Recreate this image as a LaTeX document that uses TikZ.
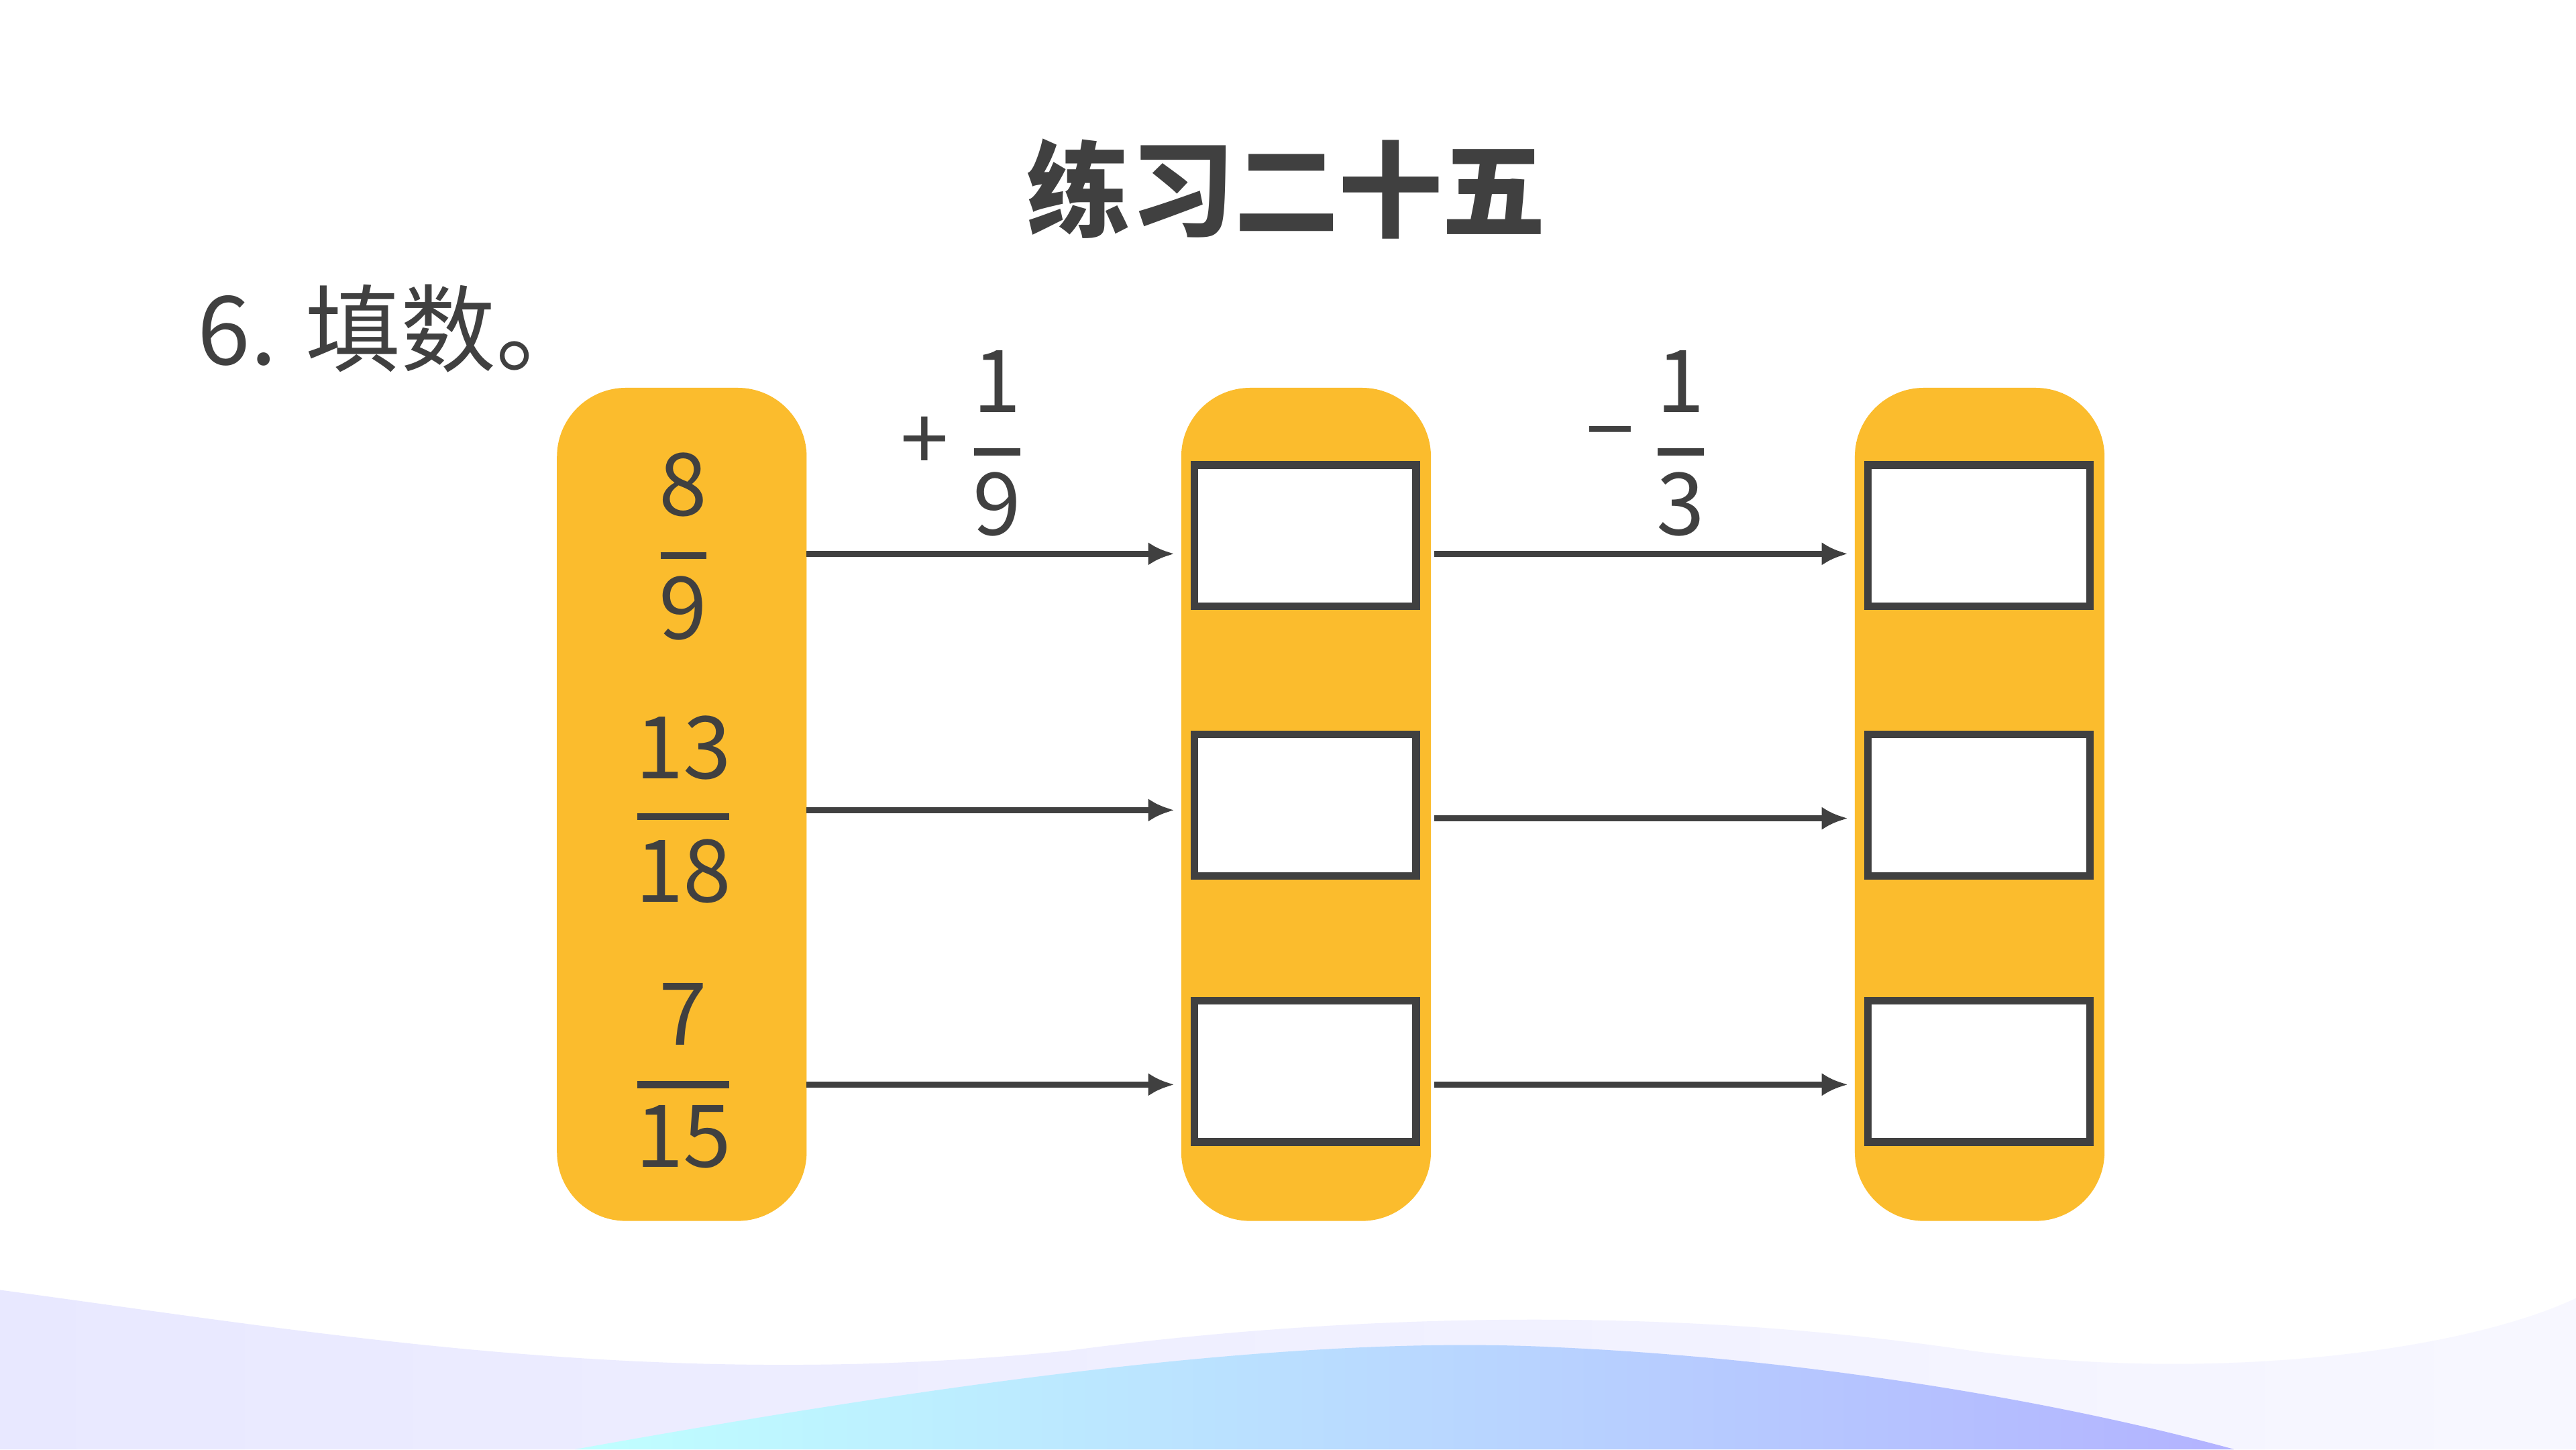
\documentclass[tikz,border=0pt]{standalone}
\usepackage{fontspec}
\setmainfont{Noto Sans CJK SC}
\usetikzlibrary{arrows.meta}
\definecolor{colyellow}{HTML}{FBBC2D}
\definecolor{inkgray}{HTML}{404040}
\tikzset{
  column/.style={fill=colyellow, rounded corners=0.42cm},
  ansbox/.style={draw=inkgray, line width=1.3pt, fill=white, minimum width=1.35cm, minimum height=0.86cm, inner sep=0pt},
  digit/.style={text=inkgray, font=\fontsize{15}{15}\selectfont, inner sep=0pt},
  bar/.style={draw=inkgray, line width=1.2pt},
  link/.style={draw=inkgray, line width=1.1pt, -{Latex[length=4.5pt,width=4pt]}}
}
\newcommand{\fracnode}[7]{% name, x, ynum, ybar, yden, num, den
  \node[digit] (#1n) at (#2,#3) {#6};
  \node[digit] (#1d) at (#2,#5) {#7};
  \coordinate (#1b) at (#2,#4);}
\begin{document}
\begin{tikzpicture}
\useasboundingbox (0,0) rectangle (15.68,8.82);
\fill[white] (0,0) rectangle (15.68,8.82);

% bottom wave
\shade[left color=blue!9, right color=blue!3] (0,0) -- (0,0.97) .. controls (2,0.7) and (4,0.35) .. (6.5,0.6)
  .. controls (8,0.8) and (10,0.9) .. (12,0.6) .. controls (13.5,0.4) and (15,0.6) .. (15.68,0.92) -- (15.68,0) -- cycle;
\shade[left color=cyan!25, right color=blue!30] (3.5,0) .. controls (6,0.45) and (8,0.7) .. (9.5,0.62)
  .. controls (11,0.55) and (12.5,0.3) .. (13.6,0) -- cycle;

% title
\node[text=inkgray, font=\fontsize{18}{18}\selectfont\bfseries] (title) at (7.83,7.67) {练习二十五};
\node[text=inkgray, font=\fontsize{16.5}{16.5}\selectfont, anchor=west] (task) at (1.08,6.82) {6. 填数。};

% columns
\fill[column] (3.39,1.39) rectangle (4.91,6.46);
\fill[column] (7.19,1.39) rectangle (8.71,6.46);
\fill[column] (11.29,1.39) rectangle (12.81,6.46);

% start values
\fracnode{fa}{4.16}{5.87}{5.44}{5.12}{8}{9}
\fracnode{fb}{4.16}{4.27}{3.85}{3.52}{13}{18}
\fracnode{fc}{4.16}{2.65}{2.22}{1.90}{7}{15}
\draw[bar] ([xshift=-0.14cm]fab) -- ([xshift=0.14cm]fab);
\draw[bar] ([xshift=-0.28cm]fbb) -- ([xshift=0.28cm]fbb);
\draw[bar] ([xshift=-0.28cm]fcb) -- ([xshift=0.28cm]fcb);

% answer boxes
\foreach \c/\x in {m/7.945, r/12.045}{
  \node[ansbox] (\c1) at (\x,5.56) {};
  \node[ansbox] (\c2) at (\x,3.92) {};
  \node[ansbox] (\c3) at (\x,2.30) {};
}

% operators
\node[digit] (plus) at (5.63,6.12) {+};
\fracnode{op}{6.07}{6.50}{6.07}{5.75}{1}{9}
\draw[bar] ([xshift=-0.14cm]opb) -- ([xshift=0.14cm]opb);
\node[digit] (minus) at (9.80,6.12) {−};
\fracnode{oq}{10.23}{6.50}{6.07}{5.75}{1}{3}
\draw[bar] ([xshift=-0.14cm]oqb) -- ([xshift=0.14cm]oqb);

% connectors
\coordinate (s1) at (4.91,5.45);
\coordinate (s2) at (4.91,3.89);
\coordinate (s3) at (4.91,2.22);
\coordinate (t1) at (8.73,5.45);
\coordinate (t2) at (8.73,3.84);
\coordinate (t3) at (8.73,2.22);
\draw[link] (s1) -- ([xshift=-0.1cm]m1.west |- s1);
\draw[link] (s2) -- ([xshift=-0.1cm]m2.west |- s2);
\draw[link] (s3) -- ([xshift=-0.1cm]m3.west |- s3);
\draw[link] (t1) -- ([xshift=-0.1cm]r1.west |- t1);
\draw[link] (t2) -- ([xshift=-0.1cm]r2.west |- t2);
\draw[link] (t3) -- ([xshift=-0.1cm]r3.west |- t3);
\end{tikzpicture}
\end{document}
